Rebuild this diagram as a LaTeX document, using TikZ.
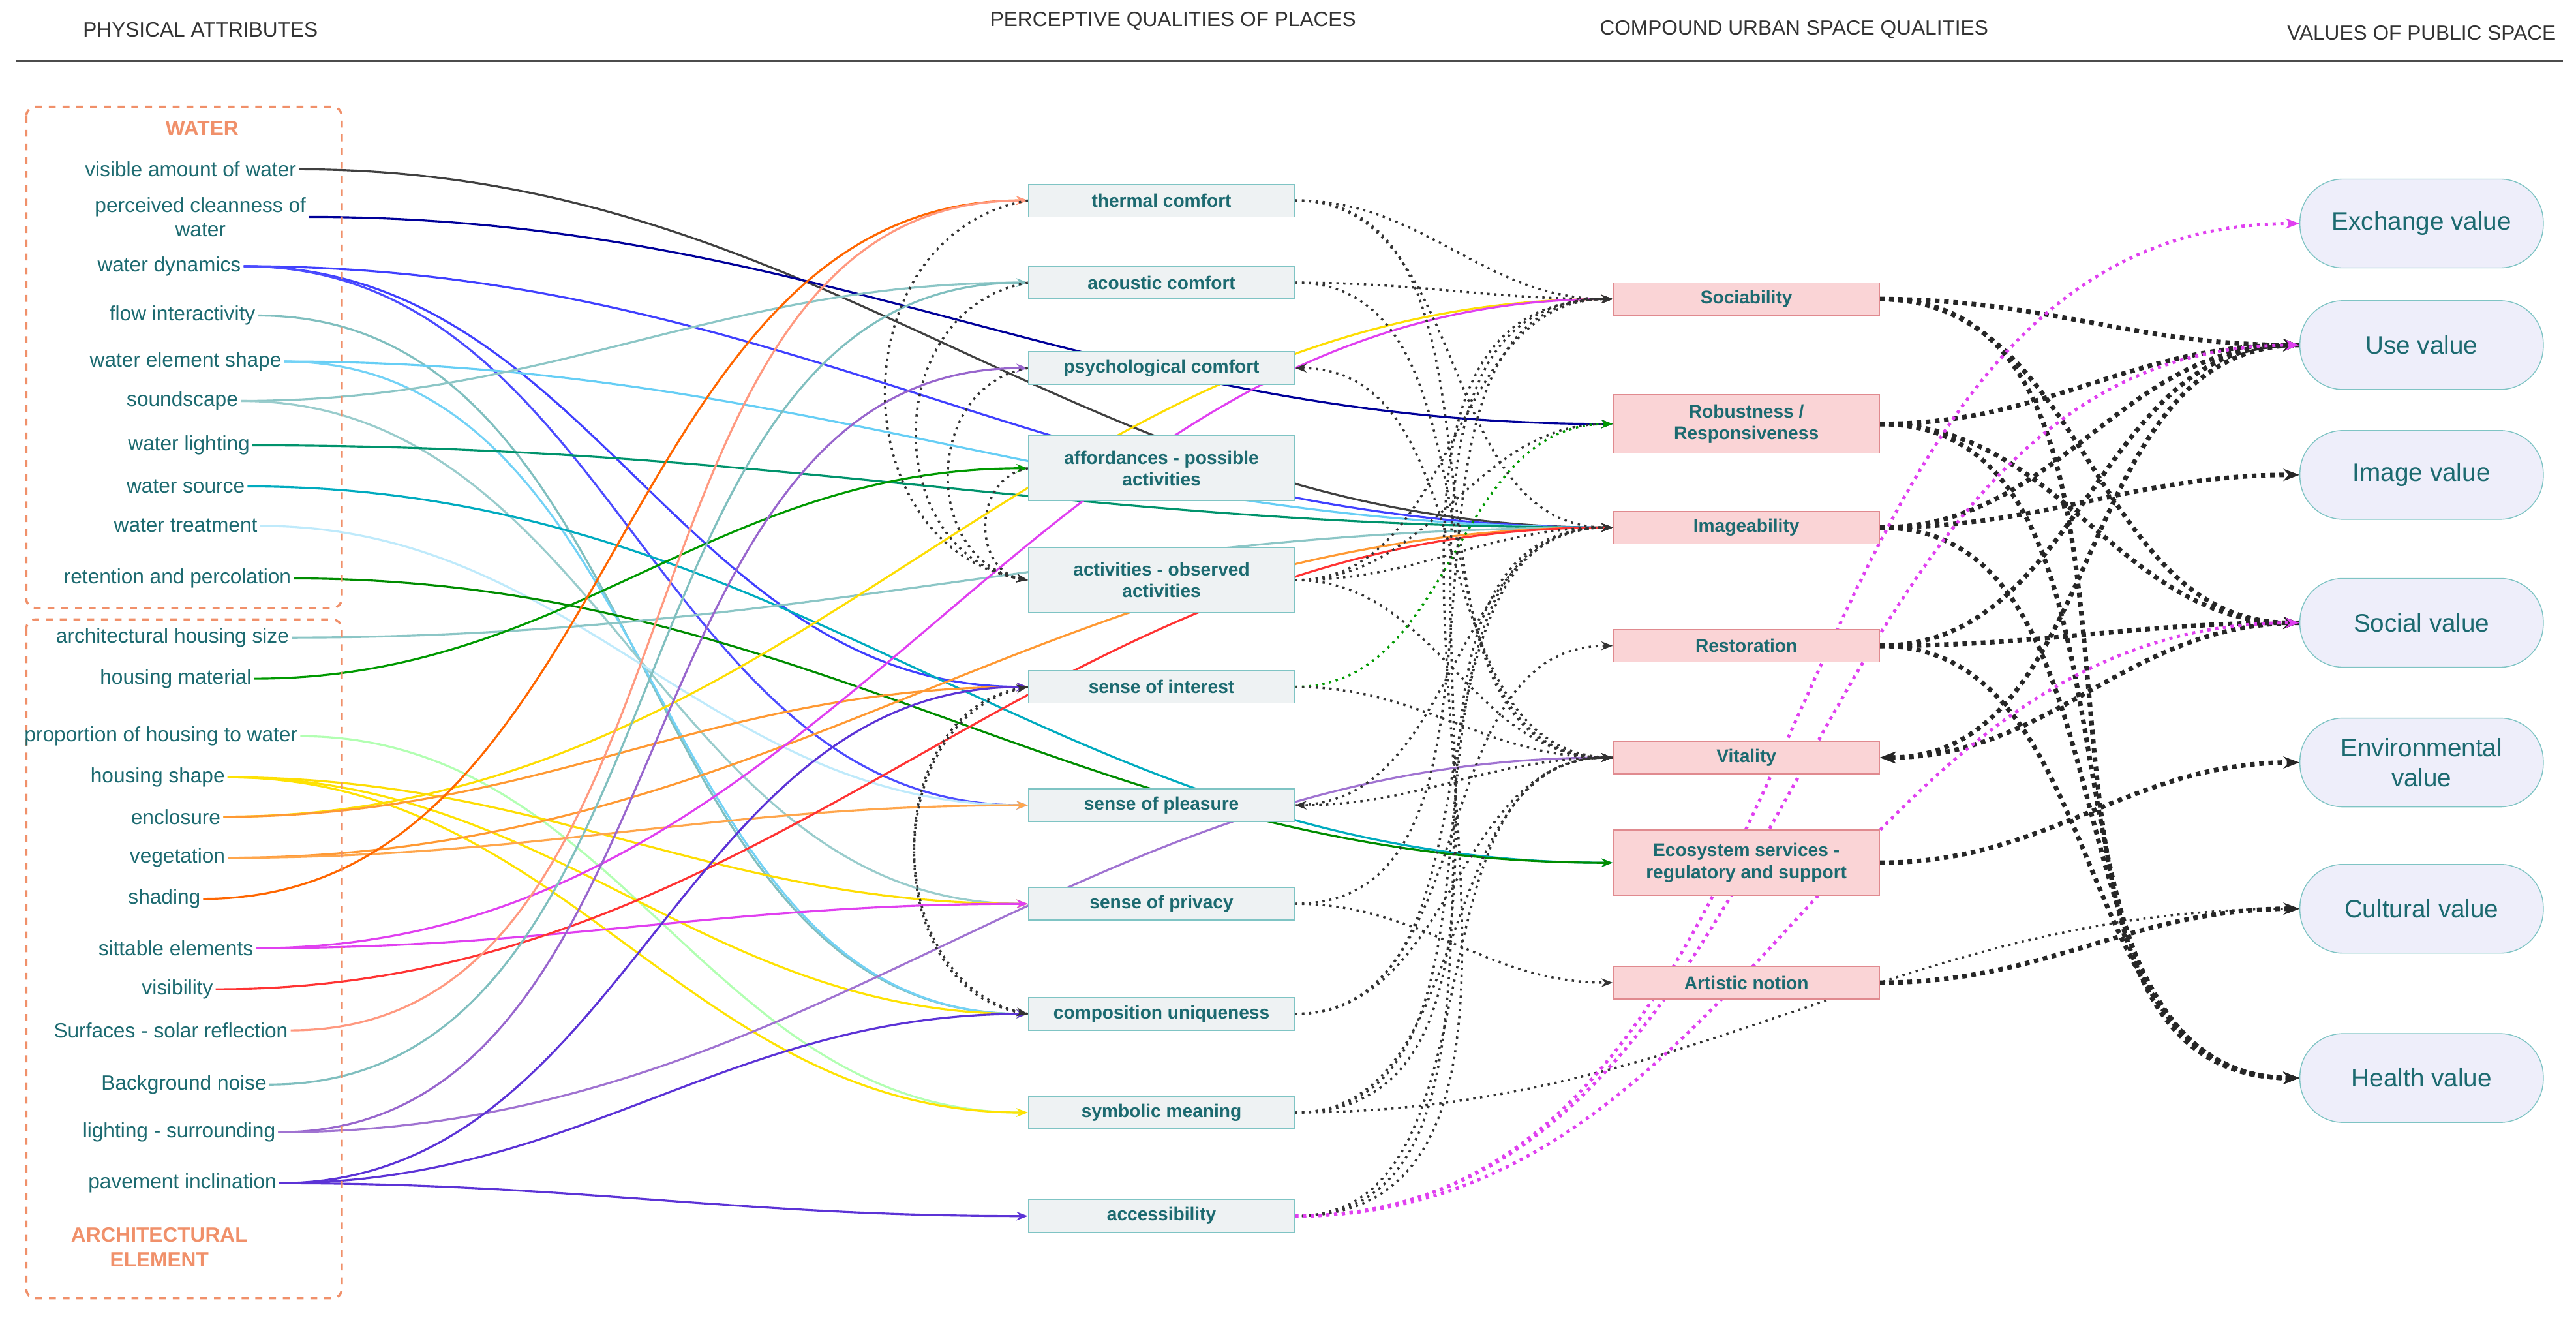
\documentclass[tikz,border=0pt]{standalone}
\usepackage{fontspec}
\setmainfont{Liberation Sans}
\usetikzlibrary{arrows.meta,backgrounds}
\definecolor{tealtxt}{HTML}{1C6A70}
\definecolor{orng}{HTML}{F0906A}
\definecolor{midfill}{HTML}{EEF2F3}
\definecolor{midbrd}{HTML}{7FC4C4}
\definecolor{pinkfill}{HTML}{FAD4D6}
\definecolor{pinkbrd}{HTML}{E08A8F}
\definecolor{valfill}{HTML}{EEEEFA}
\definecolor{mag}{HTML}{E040F0}
\begin{document}
\begin{tikzpicture}[x=0.02518cm,y=-0.02518cm,
 hdr/.style={font=\fontsize{9}{10}\selectfont,text=black!80},
 attr/.style={font=\fontsize{9}{10.5}\selectfont,text=tealtxt,align=center,inner sep=1pt},
 mid/.style={draw=midbrd,fill=midfill,minimum width=4.08cm,minimum height=0.5cm,font=\bfseries\fontsize{8}{9.5}\selectfont,text=tealtxt,align=center,inner sep=1pt},
 cmp/.style={draw=pinkbrd,fill=pinkfill,minimum width=4.08cm,minimum height=0.5cm,font=\bfseries\fontsize{8}{9.5}\selectfont,text=tealtxt,align=center,inner sep=1pt},
 val/.style={draw=midbrd,fill=valfill,minimum width=3.73cm,minimum height=1.36cm,rounded corners=0.66cm,font=\fontsize{11}{13}\selectfont,text=tealtxt,align=center},
 c/.style={line width=0.9pt,-{Stealth[length=5pt]}},
 bd/.style={dotted,line width=1pt,black!80,-{Stealth[length=5pt]}},
 bt/.style={dotted,line width=2pt,black!85,-{Stealth[length=7pt]}},
 mg/.style={dotted,line width=1.4pt,mag,-{Stealth[length=6pt]}}]
\useasboundingbox (0,0) rectangle (1568,803);
% headers
\node[hdr] (h1) at (122,18) {PHYSICAL ATTRIBUTES};
\node[hdr] (h2) at (714,13) {PERCEPTIVE QUALITIES OF PLACES};
\node[hdr] (h3) at (1092,18) {COMPOUND URBAN SPACE QUALITIES};
\node[hdr] (h4) at (1474,20) {VALUES OF PUBLIC SPACE};
\draw[black!70,line width=0.8pt] (10,37) -- (1560,37);
% boxes
\draw[orng,dashed,line width=1pt,rounded corners=4pt] (16,65) rectangle (208,370);
\draw[orng,dashed,line width=1pt,rounded corners=4pt] (16,377) rectangle (208,790);
\node[font=\bfseries\fontsize{9}{10}\selectfont,text=orng] (tw) at (123,78) {WATER};
\node[font=\bfseries\fontsize{9}{11}\selectfont,text=orng,align=center] (ta) at (97,759) {ARCHITECTURAL\\ELEMENT};
% attributes
\node[attr] (a1) at (116,103) {visible amount of water};
\node[attr] (a2) at (122,132) {perceived cleanness of\\water};
\node[attr] (a3) at (103,162) {water dynamics};
\node[attr] (a4) at (111,192) {flow interactivity};
\node[attr] (a5) at (113,220) {water element shape};
\node[attr] (a6) at (111,244) {soundscape};
\node[attr] (a7) at (115,271) {water lighting};
\node[attr] (a8) at (113,296) {water source};
\node[attr] (a9) at (113,320) {water treatment};
\node[attr] (a10) at (108,352) {retention and percolation};
\node[attr] (b1) at (105,388) {architectural housing size};
\node[attr] (b2) at (107,413) {housing material};
\node[attr] (b3) at (98,448) {proportion of housing to water};
\node[attr] (b4) at (96,473) {housing shape};
\node[attr] (b5) at (107,497) {enclosure};
\node[attr] (b6) at (108,522) {vegetation};
\node[attr] (b7) at (100,547) {shading};
\node[attr] (b8) at (107,577) {sittable elements};
\node[attr] (b9) at (108,602) {visibility};
\node[attr] (b10) at (104,627) {Surfaces - solar reflection};
\node[attr] (b11) at (112,660) {Background noise};
\node[attr] (b12) at (109,689) {lighting - surrounding};
\node[attr] (b13) at (111,720) {pavement inclination};
% perceptive
\node[mid] (m1) at (707,122) {thermal comfort};
\node[mid] (m2) at (707,172) {acoustic comfort};
\node[mid] (m3) at (707,224) {psychological comfort};
\node[mid,minimum height=1.0cm] (m4) at (707,285) {affordances - possible\\activities};
\node[mid,minimum height=1.0cm] (m5) at (707,353) {activities - observed\\activities};
\node[mid] (m6) at (707,418) {sense of interest};
\node[mid] (m7) at (707,490) {sense of pleasure};
\node[mid] (m8) at (707,550) {sense of privacy};
\node[mid] (m9) at (707,617) {composition uniqueness};
\node[mid] (m10) at (707,677) {symbolic meaning};
\node[mid] (m11) at (707,740) {accessibility};
% compound
\node[cmp] (c1) at (1063,182) {Sociability};
\node[cmp,minimum height=0.9cm] (c2) at (1063,258) {Robustness /\\Responsiveness};
\node[cmp] (c3) at (1063,321) {Imageability};
\node[cmp] (c4) at (1063,393) {Restoration};
\node[cmp] (c5) at (1063,461) {Vitality};
\node[cmp,minimum height=1.0cm] (c6) at (1063,525) {Ecosystem services -\\regulatory and support};
\node[cmp] (c7) at (1063,598) {Artistic notion};
% values
\node[val] (v1) at (1474,136) {Exchange value};
\node[val] (v2) at (1474,210) {Use value};
\node[val] (v3) at (1474,289) {Image value};
\node[val] (v4) at (1474,379) {Social value};
\node[val] (v5) at (1474,464) {Environmental\\value};
\node[val] (v6) at (1474,553) {Cultural value};
\node[val] (v7) at (1474,656) {Health value};
\begin{scope}[on background layer]
% colored connectors
\draw[c,black!75] (a1.east) to[out=0,in=180] (c3.west);
\draw[c,blue!60!black] (a2.east) to[out=0,in=180] (c2.west);
\draw[c,blue!75] (a3.east) to[out=0,in=180] (c3.west);
\draw[c,blue!75] (a3.east) to[out=0,in=180] (m6.west);
\draw[c,blue!70] (a3.east) to[out=0,in=180] (m7.west);
\draw[c,teal!50] (a4.east) to[out=0,in=180] (m9.west);
\draw[c,cyan!60] (a5.east) to[out=0,in=180] (c3.west);
\draw[c,cyan!55] (a5.east) to[out=0,in=180] (m9.west);
\draw[c,teal!45] (a6.east) to[out=0,in=180] (m2.west);
\draw[c,teal!40] (a6.east) to[out=0,in=180] (m8.west);
\draw[c,teal!85!green] (a7.east) to[out=0,in=180] (c3.west);
\draw[c,cyan!70!green] (a8.east) to[out=0,in=180] (c6.west);
\draw[c,cyan!25] (a9.east) to[out=0,in=180] (m7.west);
\draw[c,green!55!black] (a10.east) to[out=0,in=180] (c6.west);
\draw[c,teal!45] (b1.east) to[out=0,in=180] (c3.west);
\draw[c,green!60!black] (b2.east) to[out=0,in=180] (m4.west);
\draw[c,green!30] (b3.east) to[out=0,in=180] (m10.west);
\draw[c,yellow!80!orange] (b4.east) to[out=0,in=180] (m8.west);
\draw[c,yellow!85!orange] (b4.east) to[out=0,in=180] (m10.west);
\draw[c,yellow!85!orange] (b4.east) to[out=0,in=180] (m9.west);
\draw[c,yellow!80!orange] (b5.east) to[out=0,in=180] (c1.west);
\draw[c,orange!80] (b5.east) to[out=0,in=180] (m6.west);
\draw[c,orange!80] (b6.east) to[out=0,in=180] (c3.west);
\draw[c,orange!70] (b6.east) to[out=0,in=180] (m7.west);
\draw[c,orange!80!red] (b7.east) to[out=0,in=180] (m1.west);
\draw[c,mag] (b8.east) to[out=0,in=180] (c1.west);
\draw[c,mag] (b8.east) to[out=0,in=180] (m8.west);
\draw[c,red!80] (b9.east) to[out=0,in=180] (c3.west);
\draw[c,orange!40!red!50] (b10.east) to[out=0,in=180] (m1.west);
\draw[c,teal!50] (b11.east) to[out=0,in=180] (m2.west);
\draw[c,blue!35!violet!60] (b12.east) to[out=0,in=180] (m3.west);
\draw[c,blue!35!violet!55] (b12.east) to[out=0,in=180] (c5.west);
\draw[c,blue!60!violet!80] (b13.east) to[out=0,in=180] (m11.west);
\draw[c,blue!60!violet!80] (b13.east) to[out=0,in=180] (m6.west);
\draw[c,blue!60!violet!80] (b13.east) to[out=0,in=180] (m9.west);
% loops on left of perceptive column
\draw[bd] (m1.west) to[out=190,in=170,looseness=1.3] (m5.west);
\draw[bd] (m2.west) to[out=190,in=170,looseness=1.3] (m5.west);
\draw[bd] (m3.west) to[out=190,in=170,looseness=1.3] (m5.west);
\draw[bd] (m4.west) to[out=190,in=170,looseness=1.3] (m5.west);
\draw[bd] (m6.west) to[out=190,in=170,looseness=1.2] (m9.west);
\draw[bd] (m9.west) to[out=170,in=190,looseness=1.2] (m6.west);
% perceptive -> compound
\draw[bd] (m1.east) to[out=0,in=180] (c1.west);
\draw[bd] (m1.east) to[out=0,in=180] (c5.west);
\draw[bd] (m1.east) to[out=0,in=180] (c3.west);
\draw[bd] (m2.east) to[out=0,in=180] (c1.west);
\draw[bd] (m2.east) to[out=0,in=180] (c5.west);
\draw[bd] (c5.west) to[out=180,in=0] (m3.east);
\draw[bd] (m5.east) to[out=0,in=180] (c1.west);
\draw[bd] (m5.east) to[out=0,in=180] (c2.west);
\draw[bd] (m5.east) to[out=0,in=180] (c3.west);
\draw[bd] (m5.east) to[out=0,in=180] (c5.west);
\draw[bd,green!60!black] (m6.east) to[out=0,in=180] (c2.west);
\draw[bd] (m6.east) to[out=0,in=180] (c5.west);
\draw[bd] (c5.west) to[out=180,in=0] (m7.east);
\draw[bd] (m7.east) to[out=0,in=180] (c3.west);
\draw[bd] (m8.east) to[out=0,in=180] (c1.west);
\draw[bd] (m8.east) to[out=0,in=180] (c7.west);
\draw[bd] (m9.east) to[out=0,in=180] (c3.west);
\draw[bd] (m9.east) to[out=0,in=180] (c4.west);
\draw[bd] (m9.east) to[out=0,in=180] (c5.west);
\draw[bd] (m10.east) to[out=0,in=180] (c3.west);
\draw[bd] (m10.east) to[out=0,in=180] (c1.west);
\draw[bd] (m10.east) to[out=0,in=180] (c5.west);
\draw[bd] (m10.east) to[out=0,in=180] (v6.west);
\draw[bd] (m11.east) to[out=0,in=180] (c1.west);
\draw[bd] (m11.east) to[out=0,in=180] (c5.west);
\draw[bd] (m11.east) to[out=0,in=180] (c3.west);
% compound -> values
\draw[bt] (c1.east) to[out=0,in=180] (v2.west);
\draw[bt] (c1.east) to[out=0,in=180] (v4.west);
\draw[bt] (c1.east) to[out=0,in=180] (v7.west);
\draw[bt] (c2.east) to[out=0,in=180] (v2.west);
\draw[bt] (c2.east) to[out=0,in=180] (v4.west);
\draw[bt] (c2.east) to[out=0,in=180] (v7.west);
\draw[bt] (c3.east) to[out=0,in=180] (v3.west);
\draw[bt] (c3.east) to[out=0,in=180] (v2.west);
\draw[bt] (c3.east) to[out=0,in=180] (v7.west);
\draw[bt] (c4.east) to[out=0,in=180] (v4.west);
\draw[bt] (c4.east) to[out=0,in=180] (v2.west);
\draw[bt] (c4.east) to[out=0,in=180] (v7.west);
\draw[bt] (v2.west) to[out=180,in=0] (c5.east);
\draw[bt] (v4.west) to[out=180,in=0] (c5.east);
\draw[bt] (c6.east) to[out=0,in=180] (v5.west);
\draw[bt] (c7.east) to[out=0,in=180] (v6.west);
% accessibility -> values
\draw[mg] (m11.east) to[out=0,in=180] (v1.west);
\draw[mg] (m11.east) to[out=0,in=180] (v2.west);
\draw[mg] (m11.east) to[out=0,in=180] (v4.west);
\end{scope}
\end{tikzpicture}
\end{document}
